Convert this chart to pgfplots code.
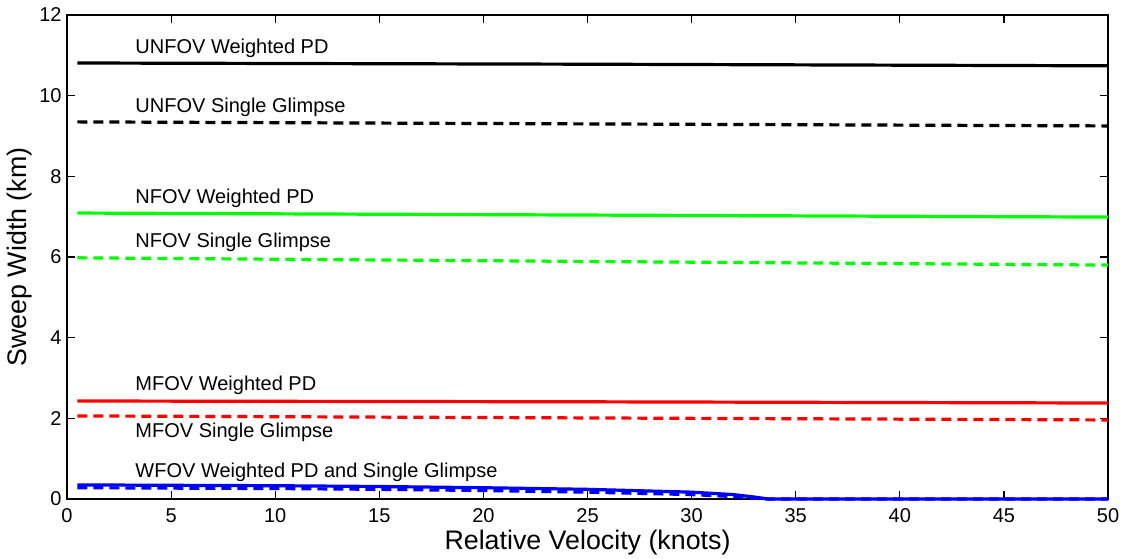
\documentclass[border=0pt]{standalone}
\usepackage{fontspec}
\setmainfont{Liberation Sans}
\usepackage{pgfplots}
\pgfplotsset{compat=1.18}
\begin{document}
\begin{tikzpicture}
\begin{axis}[name=ax,
  scale only axis, width=520.5pt, height=242pt,
  xmin=0, xmax=50, ymin=0, ymax=12,
  xtick={0,5,...,50}, ytick={0,2,...,12},
  tick align=inside, major tick length=4pt,
  axis line style={line width=0.8pt}, tick style={line width=0.6pt, black},
  /pgf/number format/assume math mode=true,
  ticklabel style={font=\fontsize{10}{12}\selectfont},
  xticklabel style={yshift=-1.2pt},
  yticklabel style={xshift=0.8pt},
  xlabel={Relative Velocity (knots)}, ylabel={Sweep Width (km)},
  label style={font=\fontsize{13.4}{16}\selectfont},
  xlabel style={at={(axis description cs:0.5,-0.0909)}, anchor=center},
  ylabel style={at={(axis description cs:-0.0452,0.5)}, anchor=center, rotate=0},
  every axis plot/.append style={line width=1.6pt},
  clip=false,
]
% UNFOV
\addplot[black] coordinates {(0.5,10.81) (25,10.78) (50,10.74)};
\addplot[black, dash pattern=on 5pt off 3pt] coordinates {(0.5,9.35) (25,9.30) (50,9.25)};
% NFOV
\addplot[green] coordinates {(0.5,7.09) (25,7.04) (50,6.99)};
\addplot[green, dash pattern=on 5pt off 3pt] coordinates {(0.5,5.98) (25,5.89) (50,5.80)};
% MFOV
\addplot[red] coordinates {(0.5,2.43) (25,2.41) (50,2.38)};
\addplot[red, dash pattern=on 5pt off 3pt] coordinates {(0.5,2.06) (25,2.01) (50,1.96)};
% WFOV
\addplot[blue] coordinates {(0.5,0.35) (5,0.34) (10,0.33) (15,0.31) (20,0.28) (25,0.24) (30,0.17) (32,0.11) (33,0.05) (33.7,0.0) (40,0.0) (50,0.0)};
\addplot[blue, dash pattern=on 5pt off 3pt] coordinates {(0.5,0.28) (5,0.27) (10,0.26) (15,0.24) (20,0.21) (25,0.17) (30,0.11) (32,0.06) (33,0.02) (33.6,0.0) (40,0.0) (50,0.0)};
\begin{scope}[every node/.style={anchor=west, inner sep=0pt, font=\fontsize{10}{12}\selectfont}]
\node at (axis cs:3.27,11.18) {UNFOV Weighted PD};
\node at (axis cs:3.27,9.70) {UNFOV Single Glimpse};
\node at (axis cs:3.27,7.46) {NFOV Weighted PD};
\node at (axis cs:3.27,6.37) {NFOV Single Glimpse};
\node at (axis cs:3.27,2.83) {MFOV Weighted PD};
\node at (axis cs:3.27,1.66) {MFOV Single Glimpse};
\node at (axis cs:3.27,0.67) {WFOV Weighted PD and Single Glimpse};
\end{scope}
\end{axis}
\pgfresetboundingbox
\path ([xshift=-33.5pt,yshift=-29.5pt]ax.south west) rectangle ([xshift=8.5pt,yshift=7.5pt]ax.north east);
\end{tikzpicture}
\end{document}
